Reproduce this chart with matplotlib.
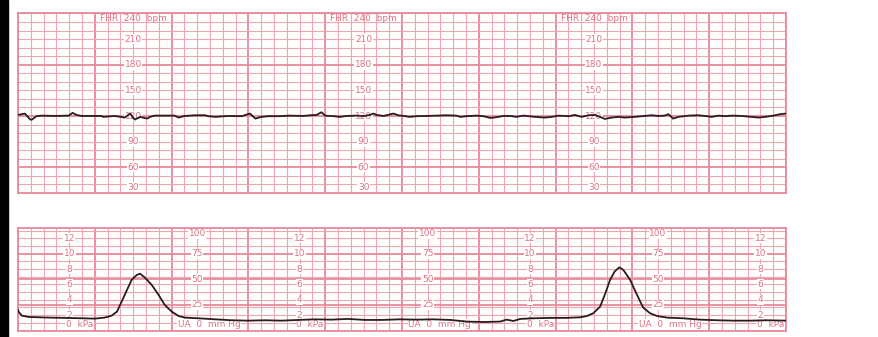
import numpy as np
import matplotlib
matplotlib.use('Agg')
import matplotlib.pyplot as plt
from matplotlib.patches import Rectangle

# Fetal heart rate trace (minutes, bpm)
fhr_min = [0.00, 0.09, 0.16, 0.18, 0.24, 0.31, 0.48, 0.66, 0.71, 0.76, 0.83, 0.96,
           1.09, 1.11, 1.26, 1.39, 1.46, 1.52, 1.59, 1.68, 1.72, 1.78, 1.91, 2.04,
           2.09, 2.17, 2.31, 2.44, 2.48, 2.57, 2.74, 2.91, 3.02, 3.09, 3.17, 3.26,
           3.41, 3.54, 3.72, 3.80, 3.89, 3.95, 4.00, 4.11, 4.19, 4.28, 4.41, 4.50,
           4.58, 4.63, 4.67, 4.76, 4.89, 4.95, 5.02, 5.10, 5.19, 5.32, 5.45, 5.58,
           5.71, 5.76, 5.84, 5.97, 6.06, 6.15, 6.23, 6.32, 6.41, 6.49, 6.58, 6.73,
           6.86, 6.95, 7.04, 7.17, 7.25, 7.34, 7.43, 7.51, 7.60, 7.64, 7.73, 7.82,
           7.90, 8.03, 8.16, 8.25, 8.34, 8.42, 8.47, 8.53, 8.60, 8.73, 8.86, 8.97,
           9.03, 9.12, 9.21, 9.29, 9.42, 9.55, 9.64, 9.73, 9.81, 9.88, 9.92, 10.0]
fhr_bpm = [121.3, 122.9, 115.8, 115.8, 119.8, 120.5, 120.1, 120.5, 123.7, 121.3, 120.1, 120.1,
           120.1, 119.0, 120.1, 118.2, 122.9, 115.8, 119.0, 117.0, 119.0, 120.5, 120.5, 120.5,
           118.2, 120.1, 120.9, 120.9, 119.8, 119.0, 120.1, 119.8, 122.9, 117.0, 119.0, 119.8,
           119.8, 120.5, 120.1, 120.9, 121.3, 124.4, 120.5, 119.8, 119.0, 120.1, 120.5, 119.8,
           121.3, 122.9, 121.3, 120.1, 122.9, 120.9, 120.1, 119.0, 119.8, 120.1, 120.5, 120.9,
           120.5, 119.0, 119.8, 120.5, 119.8, 117.8, 118.6, 120.1, 120.1, 119.0, 120.5, 119.0,
           118.2, 119.0, 120.5, 119.8, 121.3, 119.0, 120.9, 121.3, 118.2, 116.6, 118.2, 119.0,
           118.2, 119.0, 120.1, 120.9, 120.1, 120.5, 122.1, 117.0, 119.0, 120.5, 120.9, 119.8,
           119.0, 120.5, 119.8, 120.5, 120.1, 119.0, 118.2, 119.0, 120.1, 121.3, 122.1, 122.9]

# Uterine activity trace (minutes, mmHg)
ua_min = [0.00, 0.013, 0.05, 0.14, 0.40, 0.61, 0.83, 1.00, 1.13, 1.22, 1.29, 1.35,
          1.42, 1.48, 1.55, 1.59, 1.65, 1.74, 1.83, 1.91, 2.00, 2.09, 2.17, 2.35,
          2.57, 2.78, 3.00, 3.22, 3.43, 3.65, 3.87, 4.08, 4.30, 4.52, 4.74, 4.97,
          5.19, 5.41, 5.63, 5.84, 6.06, 6.28, 6.36, 6.45, 6.54, 6.71, 6.93, 7.14,
          7.32, 7.41, 7.49, 7.58, 7.64, 7.71, 7.77, 7.83, 7.88, 7.97, 8.06, 8.14,
          8.23, 8.32, 8.45, 8.66, 8.88, 9.10, 9.31, 9.53, 9.75, 10.0]
ua_mmhg = [20.1, 17.8, 14.5, 13.2, 12.6, 12.3, 11.9, 11.6, 12.6, 14.5, 18.5, 28.3,
           39.7, 49.5, 54.4, 55.4, 51.8, 44.6, 34.8, 25.0, 18.5, 14.2, 12.6, 11.9,
           10.9, 10.0, 9.6, 10.0, 9.6, 10.3, 10.9, 10.6, 11.3, 10.3, 10.3, 10.9,
           10.6, 10.9, 10.3, 8.7, 8.3, 8.7, 10.6, 9.3, 11.3, 11.9, 12.3, 12.3,
           12.9, 14.2, 16.8, 23.4, 34.8, 49.5, 57.7, 61.6, 59.3, 49.5, 34.8, 22.4,
           16.8, 14.2, 12.6, 11.9, 10.6, 10.0, 9.6, 9.6, 10.0, 9.6]

# Scale labels
fhr_labels = [210, 180, 150, 120, 90, 60]
kpa_labels = [12, 10, 8, 6, 4, 2]
mmhg_labels = [75, 50, 25]
fhr_label_cols = [1.5, 4.5, 7.5]
kpa_label_cols = [0.667, 3.667, 6.667, 9.667]
mmhg_label_cols = [2.333, 5.333, 8.333]

# Colours
thin_col = '#f0a6b1'
thick_col = '#e6899a'
text_col = '#dc7384'
trace_col = '#2a1b1c'

W, H = 879, 337
fig = plt.figure(figsize=(W / 100, H / 100), dpi=100)
fig.patch.set_facecolor('white')

# Black strip on the left edge
fig.add_artist(Rectangle((0, 0), 8 / W, 1, transform=fig.transFigure,
                         color='black', zorder=0))


def paper_axes(left, top, bottom, right):
    ax = fig.add_axes([left / W, 1 - bottom / H, (right - left) / W, (bottom - top) / H])
    ax.set_xlim(0, 10)
    ax.set_xticks(np.arange(0, 10.01, 1))
    ax.set_xticks(np.arange(0, 10.01, 1 / 6), minor=True)
    ax.tick_params(which='both', length=0, labelbottom=False, labelleft=False)
    ax.set_axisbelow(True)
    for s in ax.spines.values():
        s.set_color(thick_col)
        s.set_linewidth(1.3)
    return ax


def lbl(ax, x, y, s, **kw):
    opts = dict(ha='center', va='center', fontsize=6.5, color=text_col, zorder=2,
                bbox=dict(facecolor='white', edgecolor='none', pad=0.4))
    opts.update(kw)
    ax.text(x, y, s, **opts)


# --- FHR panel ---
ax1 = paper_axes(18, 13.4, 193, 786)
ax1.set_ylim(30, 240)
ax1.set_yticks([60, 120, 180, 240])
ax1.set_yticks(np.arange(30, 241, 10), minor=True)
ax1.grid(which='minor', color=thin_col, linewidth=0.8)
ax1.grid(which='major', color=thick_col, linewidth=1.3)

for c in fhr_label_cols:
    lbl(ax1, c, 239, 'FHR  240  bpm', va='top', bbox=None)
    for v in fhr_labels:
        lbl(ax1, c, v, str(v))
    lbl(ax1, c, 31.5, '30', va='bottom')

ax1.plot(fhr_min, fhr_bpm, color=trace_col, linewidth=1.3, zorder=3)

# --- UA panel ---
ax2 = paper_axes(18, 228, 330.5, 786)
ax2.set_ylim(0, 100)
ax2.set_yticks([25, 50, 75])
ax2.set_yticks(np.arange(0, 100, 7.5), minor=True)
ax2.grid(which='minor', color=thin_col, linewidth=0.8)
ax2.grid(which='major', color=thick_col, linewidth=1.3)

for c in kpa_label_cols:
    for v in kpa_labels:
        lbl(ax2, c, v * 7.5, str(v))
    lbl(ax2, c - 0.045, 1.5, '0  kPa', ha='left', va='bottom')
for c in mmhg_label_cols:
    lbl(ax2, c, 99, '100', va='top')
    for v in mmhg_labels:
        lbl(ax2, c, v, str(v))
    lbl(ax2, c - 0.25, 1.5, 'UA  0  mm Hg', ha='left', va='bottom')

ax2.plot(ua_min, ua_mmhg, color=trace_col, linewidth=1.3, zorder=3)

fig.savefig('out.png', dpi=100)
